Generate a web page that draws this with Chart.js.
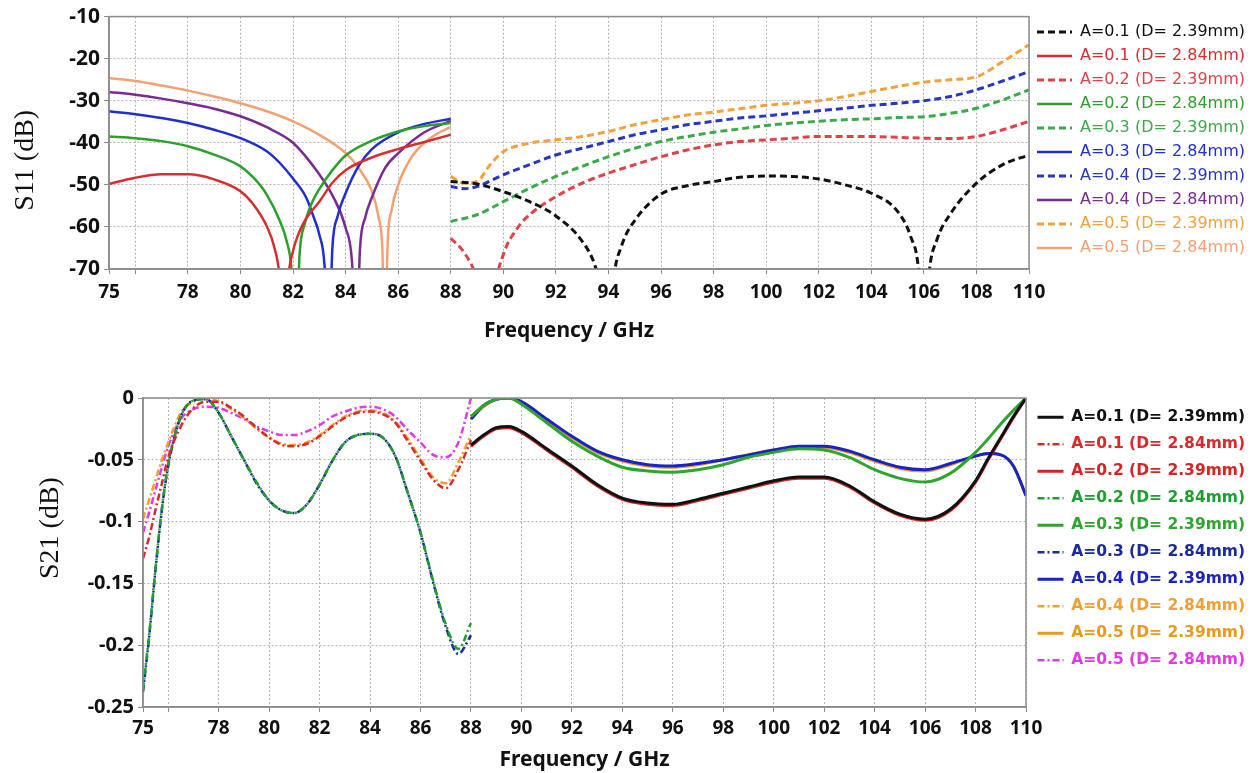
<!DOCTYPE html>
<html>
<head>
<meta charset="utf-8">
<script src="https://cdn.jsdelivr.net/npm/chart.js@4.4.0/dist/chart.umd.min.js"></script>
<style>
  html, body { margin: 0; padding: 0; background: #fff; }
  .box { position: absolute; left: 0; }
</style>
</head>
<body>
<div class="box" style="top:0"><canvas id="s11" width="1259" height="355"></canvas></div>
<div class="box" style="top:370px"><canvas id="s21" width="1259" height="403"></canvas></div>
<script>
// frequency axis (GHz)
var freqTicks = [75, 76, 78, 80, 82, 84, 86, 88, 90, 92, 94, 96, 98, 100, 102, 104, 106, 108, 110];
var freqTickLabels = ['75', '', '78', '80', '82', '84', '86', '88', '90', '92', '94', '96', '98', '100', '102', '104', '106', '108', '110'];

var seriesLabels = ['A=0.1 (D= 2.39mm)', 'A=0.1 (D= 2.84mm)', 'A=0.2 (D= 2.39mm)', 'A=0.2 (D= 2.84mm)', 'A=0.3 (D= 2.39mm)',
                    'A=0.3 (D= 2.84mm)', 'A=0.4 (D= 2.39mm)', 'A=0.4 (D= 2.84mm)', 'A=0.5 (D= 2.39mm)', 'A=0.5 (D= 2.84mm)'];

// ---- S11 (dB), D = 2.84 mm, 75-88 GHz ----
var s11RedF = [75, 76, 77, 78, 79, 80, 80.5, 81, 81.3, 81.5, 81.65, 81.8, 82, 82.2, 82.5, 83, 83.5, 84, 85, 86, 87, 88];
var s11Red = [-49.8, -48.3, -47.5, -47.5, -48.7, -51.5, -54.7, -59.8, -65.1, -72.5, -90, -73.1, -65.7, -61.8, -58, -54, -49.5, -46.5, -43.5, -41.5, -39.8, -38.1];
var s11GreenF = [75, 76, 77, 78, 79, 80, 80.5, 81, 81.5, 81.75, 81.95, 82.1, 82.25, 82.45, 82.7, 83, 83.5, 84, 85, 86, 87, 88];
var s11Green = [-38.5, -38.9, -39.6, -40.8, -42.8, -45.6, -48.3, -52.3, -58.6, -63.2, -70.6, -90, -66.6, -59.2, -54.5, -51, -46.5, -43, -39.5, -37.3, -36, -35.3];
var s11BlueF = [75, 76, 77, 78, 79, 80, 81, 81.5, 82, 82.5, 82.8, 83, 83.2, 83.35, 83.5, 83.7, 84, 84.5, 85, 86, 87, 88];
var s11Blue = [-32.5, -33.2, -34.1, -35.3, -36.9, -38.9, -42, -44.8, -48.5, -53, -57.9, -61.8, -69.2, -90, -64.8, -57.4, -52, -45.5, -41.5, -37.5, -35.5, -34.3];
var s11PurpleF = [75, 76, 77, 78, 79, 80, 81, 82, 83, 83.5, 84, 84.25, 84.4, 84.55, 84.75, 85, 85.5, 86, 87, 88];
var s11Purple = [-27.9, -28.6, -29.5, -30.6, -31.9, -33.7, -36.3, -40, -47.5, -52.5, -60.2, -68.7, -90, -65.1, -57.7, -53, -46, -42.5, -37.5, -34.8];
var s11OrangeF = [75, 76, 77, 78, 79, 80, 81, 82, 83, 84, 84.5, 85, 85.25, 85.4, 85.5, 85.6, 85.75, 86, 86.5, 87, 87.5, 88];
var s11Orange = [-24.6, -25.3, -26.4, -27.6, -29, -30.6, -32.5, -34.9, -38.1, -42.4, -46, -51.5, -57.5, -65.5, -90, -64, -56, -50, -43.5, -40, -37.8, -36.3];

// ---- S11 (dB), D = 2.39 mm, 88-110 GHz ----
var s11BlackDashF = [88, 89, 90, 91, 92, 93, 93.5, 93.8, 94, 94.2, 94.5, 95, 96, 97, 98, 99, 100, 101, 102, 103, 104, 105, 105.5, 105.8, 106, 106.2, 106.5, 107, 108, 109, 110];
var s11BlackDash = [-49.2, -49.8, -51.6, -54, -57.4, -63.4, -69.4, -77.4, -90, -72.5, -64.5, -58.5, -52.2, -50.2, -49.2, -48.2, -47.9, -48, -48.6, -50, -52, -56.3, -62.3, -70.3, -90, -71, -63, -57, -49.6, -45.2, -42.9];
var s11RedDashF = [88, 88.5, 89, 89.3, 89.5, 89.7, 90, 90.5, 91, 92, 93, 94, 95, 96, 97, 98, 99, 100, 101, 102, 103, 104, 105, 106, 107, 108, 109, 110];
var s11RedDash = [-62.7, -66, -72.2, -80, -90, -74.6, -66.6, -60.6, -57.1, -52.8, -49.6, -47.2, -45.2, -43.3, -41.7, -40.5, -39.7, -39.3, -38.9, -38.5, -38.5, -38.5, -38.7, -38.9, -39, -38.5, -36.9, -34.9];
var s11GreenDashF = [88, 89, 90, 91, 92, 93, 94, 95, 96, 97, 98, 99, 100, 101, 102, 103, 104, 105, 106, 107, 108, 109, 110];
var s11GreenDash = [-58.7, -57.1, -54, -50.8, -48, -45.6, -43.3, -41.3, -39.7, -38.5, -37.5, -36.7, -35.9, -35.3, -34.9, -34.5, -34.3, -34, -33.8, -33, -31.8, -29.8, -27.4];
var s11BlueDashF = [88, 88.5, 89, 90, 91, 92, 93, 94, 95, 96, 97, 98, 99, 100, 101, 102, 103, 104, 105, 106, 107, 108, 109, 110];
var s11BlueDash = [-50.4, -50.9, -50.4, -47.6, -45.2, -42.9, -41.3, -39.7, -38.1, -36.9, -35.7, -34.9, -34.1, -33.6, -33, -32.4, -31.8, -31.1, -30.6, -30, -29, -27.4, -25.3, -23.1];
var s11OrangeDashF = [88, 88.5, 89, 89.5, 90, 91, 92, 93, 94, 95, 96, 97, 98, 99, 100, 101, 102, 103, 104, 105, 106, 107, 108, 109, 110];
var s11OrangeDash = [-48, -49.6, -49.2, -45.2, -42.1, -40.1, -39.3, -38.5, -37.3, -35.7, -34.5, -33.4, -32.7, -31.9, -31.1, -30.6, -30, -29, -27.8, -26.6, -25.6, -25, -24.3, -20.7, -16.7];

// ---- S21 (dB), D = 2.84 mm, 75-88 GHz ----
var s21LeftF = [75, 75.25, 75.5, 75.75, 76, 76.5, 77, 77.5, 78, 78.5, 79, 79.5, 80, 80.5, 81, 81.5, 82, 82.5, 83, 83.5, 84, 84.5, 85, 85.5, 86, 86.5, 87, 87.5, 88];
var s21RedDD = [-0.130, -0.112, -0.090, -0.069, -0.048, -0.023, -0.008, -0.003, -0.003, -0.008, -0.015, -0.024, -0.032, -0.038, -0.039, -0.037, -0.031, -0.023, -0.016, -0.012, -0.011, -0.013, -0.020, -0.035, -0.051, -0.066, -0.073, -0.058, -0.034];
var s21GreenDD = [-0.236, -0.190, -0.137, -0.089, -0.054, -0.015, -0.002, -0.001, -0.012, -0.031, -0.050, -0.068, -0.083, -0.091, -0.093, -0.086, -0.070, -0.051, -0.036, -0.030, -0.029, -0.032, -0.047, -0.077, -0.109, -0.148, -0.183, -0.203, -0.182];
var s21BlueDD = [-0.238, -0.192, -0.138, -0.090, -0.055, -0.015, -0.002, -0.001, -0.012, -0.031, -0.050, -0.069, -0.083, -0.091, -0.093, -0.086, -0.070, -0.051, -0.036, -0.030, -0.029, -0.032, -0.047, -0.077, -0.109, -0.149, -0.185, -0.207, -0.192];
var s21OrangeDD = [-0.098, -0.082, -0.066, -0.050, -0.036, -0.012, -0.003, 0, -0.003, -0.009, -0.016, -0.025, -0.032, -0.037, -0.038, -0.036, -0.030, -0.022, -0.015, -0.011, -0.010, -0.012, -0.019, -0.033, -0.049, -0.064, -0.069, -0.052, -0.030];
var s21MagentaDD = [-0.109, -0.092, -0.074, -0.056, -0.039, -0.017, -0.009, -0.007, -0.008, -0.012, -0.017, -0.023, -0.027, -0.030, -0.030, -0.027, -0.022, -0.015, -0.011, -0.008, -0.007, -0.009, -0.015, -0.026, -0.036, -0.046, -0.048, -0.036, 0];

// ---- S21 (dB), D = 2.39 mm, 88-110 GHz ----
var s21RightF = [88, 88.5, 89, 89.5, 90, 91, 92, 93, 94, 95, 96, 97, 98, 99, 100, 101, 102, 103, 104, 105, 106, 107, 108, 108.5, 109, 109.5, 110];
var s21Black = [-0.038, -0.030, -0.024, -0.023, -0.027, -0.041, -0.055, -0.070, -0.081, -0.085, -0.086, -0.082, -0.077, -0.072, -0.067, -0.064, -0.064, -0.071, -0.084, -0.094, -0.098, -0.090, -0.067, -0.049, -0.032, -0.015, 0];
var s21Red = [-0.039, -0.031, -0.025, -0.024, -0.028, -0.042, -0.056, -0.071, -0.082, -0.086, -0.087, -0.083, -0.078, -0.073, -0.068, -0.065, -0.065, -0.072, -0.085, -0.095, -0.099, -0.091, -0.068, -0.050, -0.033, -0.016, 0];
var s21Green = [-0.015, -0.006, -0.001, 0, -0.005, -0.020, -0.035, -0.047, -0.056, -0.059, -0.060, -0.058, -0.054, -0.048, -0.044, -0.041, -0.042, -0.048, -0.058, -0.065, -0.068, -0.061, -0.044, -0.033, -0.021, -0.010, 0];
var s21Blue = [-0.017, -0.006, -0.001, 0, -0.003, -0.017, -0.031, -0.043, -0.050, -0.054, -0.055, -0.053, -0.050, -0.046, -0.042, -0.039, -0.039, -0.043, -0.050, -0.056, -0.058, -0.053, -0.047, -0.045, -0.046, -0.055, -0.079];
var s21Orange = [-0.017, -0.007, -0.001, 0, -0.004, -0.018, -0.032, -0.044, -0.051, -0.055, -0.056, -0.054, -0.050, -0.046, -0.042, -0.040, -0.040, -0.044, -0.051, -0.057, -0.059, -0.054, -0.047, -0.045, -0.046, -0.055, -0.079];

var DASH = [7, 4];
var DASHDOT = [7, 3, 2, 3];

function pts(f, v) {
  return f.map(function (x, i) { return { x: x, y: v[i] }; });
}

function line(label, color, dash, width, f, v) {
  return {
    label: label, data: pts(f, v), borderColor: color, backgroundColor: color,
    borderDash: dash, borderWidth: width, pointRadius: 0, fill: false,
    cubicInterpolationMode: 'monotone'
  };
}

// legend samples copy the line style, text takes the line colour
function colouredLabels(chart) {
  var items = Chart.defaults.plugins.legend.labels.generateLabels(chart);
  items.forEach(function (it) {
    var ds = chart.data.datasets[it.datasetIndex];
    it.strokeStyle = ds.borderColor;
    it.fontColor = ds.borderColor;
    it.lineDash = ds.borderDash;
    it.lineWidth = ds.borderWidth;
  });
  return items;
}

// solid grey box round the plot area
var framePlugin = {
  id: 'frame',
  afterDatasetsDraw: function (chart) {
    var a = chart.chartArea, ctx = chart.ctx;
    ctx.save();
    ctx.strokeStyle = '#8c8c8c';
    ctx.lineWidth = 1.5;
    ctx.setLineDash([]);
    ctx.strokeRect(a.left, a.top, a.right - a.left, a.bottom - a.top);
    ctx.restore();
  }
};

function options(o) {
  return {
    responsive: false,
    animation: false,
    layout: { padding: { top: o.padTop, right: 0, bottom: 0, left: 0 } },
    plugins: {
      legend: {
        position: 'right', align: 'start',
        labels: {
          usePointStyle: true, pointStyle: 'line', pointStyleWidth: o.sampleWidth,
          padding: o.legendGap, font: o.legendFont, generateLabels: colouredLabels
        }
      },
      tooltip: { enabled: false }
    },
    scales: {
      x: {
        type: 'linear', min: 75, max: 110,
        afterBuildTicks: function (s) { s.ticks = freqTicks.map(function (v) { return { value: v }; }); },
        afterFit: function (s) { s.height = o.xHeight; },
        ticks: {
          autoSkip: false, maxRotation: 0, minRotation: 0, padding: o.xTickPad, color: '#111',
          font: { family: 'Noto Sans', size: 19, weight: 'bold' },
          callback: function (v, i) { return freqTickLabels[i]; }
        },
        grid: { color: '#b4b4b4', tickColor: '#8c8c8c', tickLength: 5, tickBorderDash: [] },
        border: { color: '#8c8c8c', width: 1.5, dash: [2, 2] },
        title: {
          display: true, text: 'Frequency / GHz', color: '#111',
          font: { family: 'Noto Sans', size: 21, weight: 'bold' },
          padding: { top: 0, bottom: o.xTitlePad }
        }
      },
      y: {
        min: o.yMin, max: o.yMax,
        afterFit: function (s) { s.width = o.yWidth; },
        ticks: {
          stepSize: o.yStep, padding: 4, color: '#111',
          font: { family: 'Noto Sans', size: o.yTickSize, weight: 'bold' },
          callback: o.yFormat
        },
        grid: { color: '#b4b4b4', tickColor: '#8c8c8c', tickLength: 5, tickBorderDash: [] },
        border: { color: '#8c8c8c', width: 1.5, dash: [2, 2] },
        title: {
          display: true, text: o.yTitle, color: '#111',
          font: { family: 'Liberation Serif', size: 28 },
          padding: { top: o.yTitlePad, bottom: 0 }
        }
      }
    }
  };
}

// move the legend/plot boundary to a given x
function pinRight(chart, opts, x) {
  opts.layout.padding.right += chart.chartArea.right - x;
  chart.update();
}

var s11Opts = options({
  padTop: 16, sampleWidth: 35, legendGap: 8,
  legendFont: { family: 'DejaVu Sans', size: 16 },
  xHeight: 86, xTickPad: 7, xTitlePad: 11,
  yMin: -70, yMax: -10, yStep: 10, yWidth: 109, yTickSize: 21,
  yFormat: function (v) { return String(v); },
  yTitle: 'S11 (dB)     ', yTitlePad: 9
});

var s11Chart = new Chart(document.getElementById('s11'), {
  type: 'line',
  data: {
    datasets: [
      line(seriesLabels[0], '#111111', DASH, 3, s11BlackDashF, s11BlackDash),
      line(seriesLabels[1], '#d62f2f', [], 2.5, s11RedF, s11Red),
      line(seriesLabels[2], '#e0424a', DASH, 3, s11RedDashF, s11RedDash),
      line(seriesLabels[3], '#2ca02c', [], 2.5, s11GreenF, s11Green),
      line(seriesLabels[4], '#3aaa4a', DASH, 3, s11GreenDashF, s11GreenDash),
      line(seriesLabels[5], '#1f2fd0', [], 2.5, s11BlueF, s11Blue),
      line(seriesLabels[6], '#2836c0', DASH, 3, s11BlueDashF, s11BlueDash),
      line(seriesLabels[7], '#7a2a90', [], 2.5, s11PurpleF, s11Purple),
      line(seriesLabels[8], '#f2a23a', DASH, 3, s11OrangeDashF, s11OrangeDash),
      line(seriesLabels[9], '#f4a070', [], 2.5, s11OrangeF, s11Orange)
    ]
  },
  options: s11Opts,
  plugins: [framePlugin]
});
pinRight(s11Chart, s11Opts, 1029);

var s21Opts = options({
  padTop: 28, sampleWidth: 26, legendGap: 11.5,
  legendFont: { family: 'DejaVu Sans', size: 15.5, weight: 'bold' },
  xHeight: 66, xTickPad: 5, xTitlePad: 0,
  yMin: -0.25, yMax: 0, yStep: 0.05, yWidth: 143, yTickSize: 20,
  yFormat: function (v) { var r = Math.round(v * 100) / 100; return r === 0 ? '0' : String(r); },
  yTitle: '       S21 (dB)', yTitlePad: 34
});

var s21Chart = new Chart(document.getElementById('s21'), {
  type: 'line',
  data: {
    datasets: [
      line(seriesLabels[0], '#111111', [], 3, s21RightF, s21Black),
      line(seriesLabels[1], '#d82a2a', DASHDOT, 2.5, s21LeftF, s21RedDD),
      line(seriesLabels[2], '#d42424', [], 3, s21RightF, s21Red),
      line(seriesLabels[3], '#1e9e2e', DASHDOT, 2.5, s21LeftF, s21GreenDD),
      line(seriesLabels[4], '#2ea52e', [], 3, s21RightF, s21Green),
      line(seriesLabels[5], '#1c2a9c', DASHDOT, 2.5, s21LeftF, s21BlueDD),
      line(seriesLabels[6], '#1a22c4', [], 3, s21RightF, s21Blue),
      line(seriesLabels[7], '#f0a030', DASHDOT, 2.5, s21LeftF, s21OrangeDD),
      line(seriesLabels[8], '#e89a20', [], 3, s21RightF, s21Orange),
      line(seriesLabels[9], '#e23ae2', DASHDOT, 2.5, s21LeftF, s21MagentaDD)
    ]
  },
  options: s21Opts,
  plugins: [framePlugin]
});
pinRight(s21Chart, s21Opts, 1026);
</script>
</body>
</html>
